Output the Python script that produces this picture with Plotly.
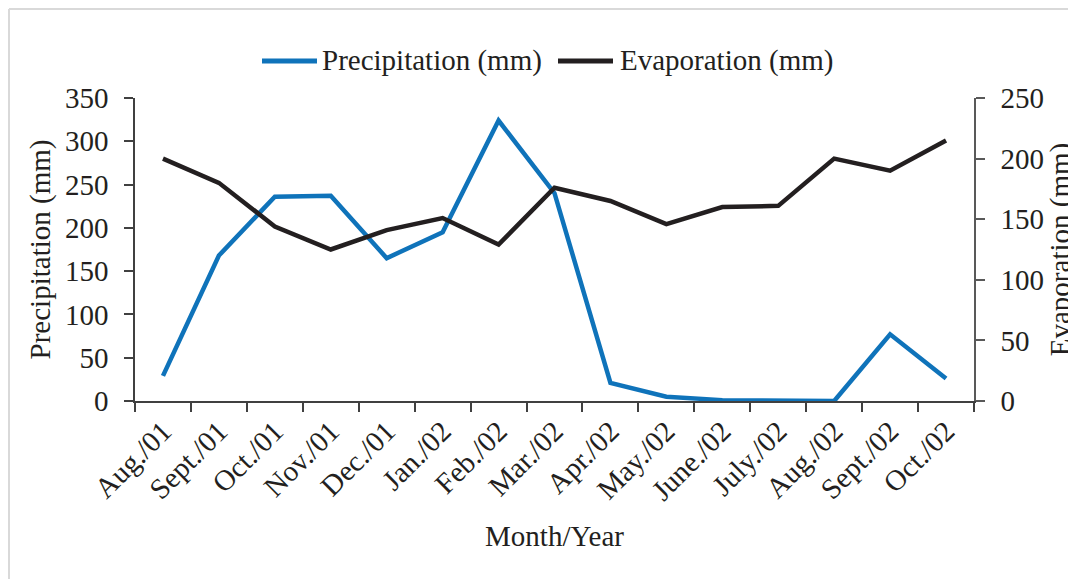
import plotly.graph_objects as go

months = ["Aug./01", "Sept./01", "Oct./01", "Nov./01", "Dec./01", "Jan./02", "Feb./02",
          "Mar./02", "Apr./02", "May./02", "June./02", "July./02", "Aug./02", "Sept./02", "Oct./02"]
precipitation = [29, 168, 236, 237, 165, 195, 324, 240, 21, 5, 1, 0, 0, 77, 26]
evaporation = [200, 180, 144, 125, 141, 151, 129, 176, 165, 146, 160, 161, 200, 190, 215]
series_names = ["Precipitation (mm)", "Evaporation (mm)"]
series_colors = ["#0F73BA", "#231F20"]

FONT = "Liberation Serif, Times New Roman, serif"
TXT = "#231F20"
FS = 29

fig = go.Figure()
fig.add_trace(go.Scatter(x=months, y=precipitation, name=series_names[0], mode="lines",
                         line=dict(color=series_colors[0], width=4.5), yaxis="y", showlegend=False))
fig.add_trace(go.Scatter(x=months, y=evaporation, name=series_names[1], mode="lines",
                         line=dict(color=series_colors[1], width=4.5), yaxis="y2", showlegend=False))

W, H = 1076, 579
L, R, T, B = 127, 110, 90, 186
pw, ph = W - L - R, H - T - B

def px(x):
    return (x - L) / pw

def py(y):
    return (H - B - y) / ph

# manual legend (positions in figure pixels)
leg_y = 53
leg_items = [(254, 309, 312), (550, 605, 610)]
shapes = []
annotations = []
for (x0, x1, xt), name, col in zip(leg_items, series_names, series_colors):
    shapes.append(dict(type="line", xref="paper", yref="paper", x0=px(x0), x1=px(x1),
                       y0=py(leg_y), y1=py(leg_y), line=dict(color=col, width=5)))
    annotations.append(dict(text=name, xref="paper", yref="paper", x=px(xt), y=py(leg_y),
                            xanchor="left", yanchor="middle", showarrow=False,
                            font=dict(family=FONT, size=FS, color=TXT)))

# light grey frame (top and left edges)
shapes.append(dict(type="line", xref="paper", yref="paper", x0=px(1), x1=px(1076), y0=py(1), y1=py(1),
                   line=dict(color="#D9D9D9", width=2), layer="below"))
shapes.append(dict(type="line", xref="paper", yref="paper", x0=px(1), x1=px(1), y0=py(1), y1=py(579),
                   line=dict(color="#D9D9D9", width=2), layer="below"))

axis_font = dict(family=FONT, size=FS, color=TXT)

fig.update_layout(
    width=W, height=H,
    margin=dict(l=L, r=R, t=T, b=B, autoexpand=False),
    paper_bgcolor="white", plot_bgcolor="white",
    font=axis_font,
    showlegend=False,
    shapes=shapes,
    annotations=annotations,
    xaxis=dict(type="category", range=[-0.5, 14.5], showline=True, linecolor="#404040", linewidth=1.5,
               ticks="outside", ticklen=9, tickcolor="#404040", tickwidth=1.5, tickson="boundaries",
               tickangle=-45, showgrid=False, zeroline=False, tickfont=axis_font, automargin=False,
               title=dict(text="Month/Year", font=axis_font, standoff=20)),
    yaxis=dict(range=[0, 350], dtick=50, showline=True, linecolor="#404040", linewidth=1.5,
               ticks="outside", ticklen=9, tickcolor="#404040", tickwidth=1.5, showgrid=False,
               zeroline=False, ticklabelstandoff=10, tickfont=axis_font, automargin=False,
               title=dict(text="Precipitation (mm)", font=axis_font, standoff=6)),
    yaxis2=dict(range=[0, 250], dtick=50, overlaying="y", side="right", showline=True,
                linecolor="#595959", linewidth=1.5, ticks="outside", ticklen=9, tickcolor="#595959",
                tickwidth=1.5, showgrid=False, zeroline=False, ticklabelstandoff=10,
                tickfont=axis_font, automargin=False,
                title=dict(text="Evaporation (mm)", font=axis_font, standoff=3)),
)

fig.write_html("out.html")
